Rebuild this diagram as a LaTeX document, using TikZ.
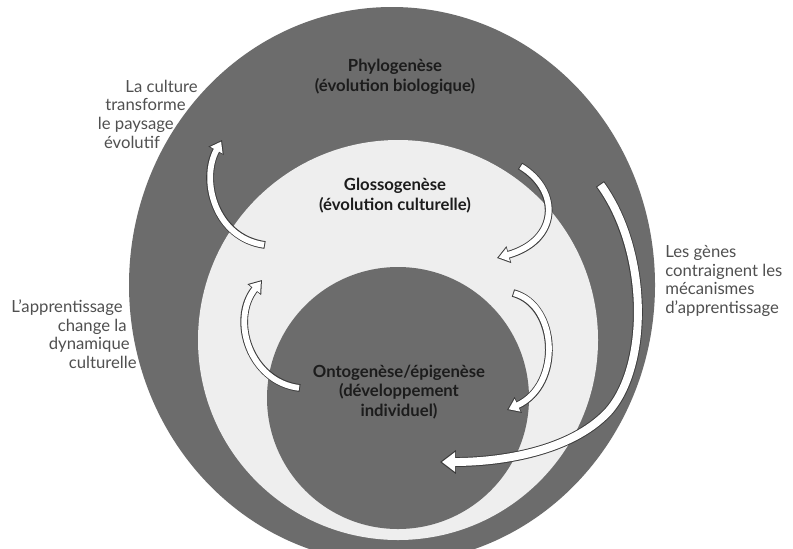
\documentclass[tikz,border=0pt]{standalone}
\usepackage{fontspec}
\setmainfont{Lato}
\usetikzlibrary{arrows.meta}

\definecolor{ringgray}{RGB}{108,108,108}
\definecolor{bandgray}{RGB}{238,238,238}
\definecolor{titlegray}{RGB}{28,28,28}
\definecolor{notegray}{RGB}{80,80,80}
\definecolor{rimgray}{RGB}{60,60,60}

\tikzset{
  title/.style={font=\fontsize{9.5}{11.3}\selectfont\bfseries, text=titlegray, align=center, inner sep=0pt},
  note/.style={font=\fontsize{9.5}{10.6}\selectfont, text=notegray, inner sep=0pt},
  rim/.style={draw=rimgray, line width=4.4pt, -{Triangle[width=9.5pt,length=7pt]}},
  core/.style={draw=white, line width=3.3pt, shorten >=1pt, shorten <=0.55pt, -{Triangle[width=7.6pt,length=5.6pt]}},
  bigrim/.style={draw=rimgray, line width=5.6pt, -{Triangle[width=13pt,length=9pt]}},
  bigcore/.style={draw=white, line width=4.5pt, shorten >=1.1pt, shorten <=0.55pt, -{Triangle[width=10.8pt,length=7.5pt]}},
}

% white block arrow with a thin dark rim
\newcommand{\blockarrow}[3]{\draw[#1] #3; \draw[#2] #3;}

\begin{document}
\begin{tikzpicture}[x=0.02cm, y=-0.02cm]
  \clip (0,0) rectangle (793,548);
  \fill[white] (0,0) rectangle (793,548);

  % the three discs
  \fill[ringgray] (392,285) ellipse [x radius=263, y radius=278];
  \fill[bandgray] (398,340) circle [radius=200];
  \fill[ringgray] (398,398) circle [radius=131];

  % levels
  \node[title] (phylo)  at (395,77)  {Phylogenèse\\(évolution biologique)};
  \node[title] (glosso) at (395,196) {Glossogenèse\\(évolution culturelle)};
  \node[title] (onto)   at (399,392) {Ontogenèse/épigenèse\\(développement\\individuel)};

  % side notes
  \node[note, anchor=east, align=right] (culture) at (198,114)
    {La culture\\transforme\hspace*{6.8pt}\mbox{}\\le paysage\hspace*{13.6pt}\mbox{}\\évolutif\hspace*{21.5pt}\mbox{}};
  \node[note, anchor=east, align=right] (learning) at (137,334)
    {L'apprentissage\hspace*{8pt}\mbox{}\\change la\hspace*{5.7pt}\mbox{}\\dynamique\hspace*{4pt}\mbox{}\\culturelle};
  \node[note, anchor=west, align=left] (genes) at (665,281)
    {Les gènes\\contraignent les\\mécanismes\\d'apprentissage};

  % arrow ends
  \coordinate (cultTail)  at (265,245);
  \coordinate (cultHead)  at (222,140);
  \coordinate (learnTail) at (300,388);
  \coordinate (learnHead) at (262,280);
  \coordinate (transTail) at (513,293);
  \coordinate (transHead) at (507,410);
  \coordinate (phyTail)   at (520,166);
  \coordinate (phyHead)   at (497,258);
  \coordinate (geneTail)  at (600,184);
  \coordinate (geneMid)   at (608,412);
  \coordinate (geneHead)  at (440,462);

  \blockarrow{rim}{core}{(cultTail) .. controls (215,238) and (200,180) .. (cultHead)}
  \blockarrow{rim}{core}{(learnTail) .. controls (250,382) and (230,320) .. (learnHead)}
  \blockarrow{rim}{core}{(transTail) .. controls (558,305) and (562,385) .. (transHead)}
  \blockarrow{rim}{core}{(phyTail) .. controls (560,190) and (560,240) .. (phyHead)}
  \blockarrow{bigrim}{bigcore}{(geneTail) .. controls (648,250) and (650,365) .. (geneMid) .. controls (570,452) and (500,462) .. (geneHead)}
\end{tikzpicture}
\end{document}
